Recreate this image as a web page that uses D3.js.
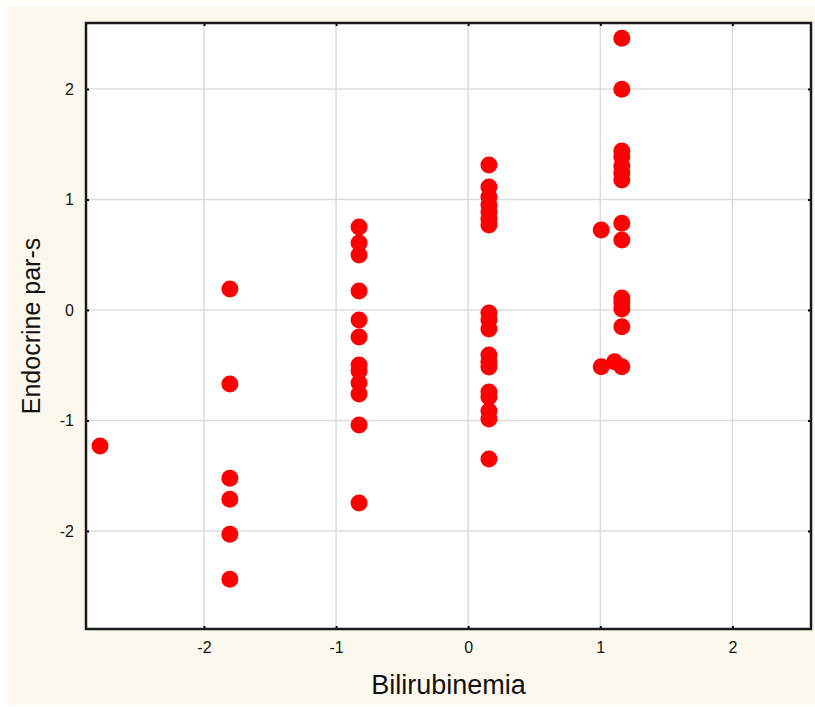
<!DOCTYPE html>
<html>
<head>
<meta charset="utf-8">
<script src="https://cdn.jsdelivr.net/npm/d3@7"></script>
<style>
  html, body { margin: 0; padding: 0; background: #ffffff; }
  svg { display: block; }
  text { font-family: "Liberation Sans", Arial, sans-serif; fill: #111; }
</style>
</head>
<body>
<svg id="chart" width="815" height="707"></svg>
<script>
// Standardized scores per patient: bilirubinemia (x) vs endocrine parameters (y)
const bilirubinemia = [
  -2.787,
  -1.804, -1.804, -1.804, -1.804, -1.804, -1.804,
  -0.826, -0.826, -0.826, -0.826, -0.826, -0.826, -0.826, -0.826, -0.826, -0.826, -0.826, -0.826,
  0.157, 0.157, 0.157, 0.157, 0.157, 0.157, 0.157,
  0.157, 0.157, 0.157, 0.157, 0.157, 0.157, 0.157, 0.157, 0.157, 0.157, 0.157,
  1.163, 1.163, 1.163, 1.163, 1.163, 1.163, 1.163, 1.163, 1.163, 1.007,
  1.163, 1.163, 1.163, 1.163, 1.007, 1.108, 1.163
];
const endocrine = [
  -1.231,
  0.190, -0.670, -1.523, -1.713, -2.030, -2.437,
  0.751, 0.606, 0.498, 0.172, -0.090, -0.244, -0.498, -0.552, -0.661, -0.760, -1.041, -1.747,
  1.312, 1.113, 1.023, 0.950, 0.887, 0.824, 0.769,
  -0.027, -0.090, -0.172, -0.407, -0.471, -0.516, -0.742, -0.787, -0.914, -0.986, -1.348,
  2.459, 1.997, 1.439, 1.385, 1.303, 1.240, 1.176, 0.785, 0.633, 0.724,
  0.109, 0.063, 0.009, -0.151, -0.513, -0.468, -0.513
];
const xTicks = [-2, -1, 0, 1, 2];
const yTicks = [-2, -1, 0, 1, 2];
const xTitle = "Bilirubinemia";
const yTitle = "Endocrine par-s";

const points = bilirubinemia.map((b, i) => ({ x: b, y: endocrine[i] }));
// plain hyphen for negative tick labels
const fmt = d => String(d);

const svg = d3.select("#chart");
const W = 815;
const plot = { left: 86, top: 23, right: 811, bottom: 629 };

// cream panel behind the whole chart
svg.append("rect")
  .attr("x", 7).attr("y", 6)
  .attr("width", W - 7).attr("height", 699)
  .attr("fill", "#fdf8ed");

const x = d3.scaleLinear().domain([-2.893, 2.595]).range([plot.left, plot.right]);
const y = d3.scaleLinear().domain([-2.887, 2.597]).range([plot.bottom, plot.top]);

// plot area
svg.append("rect")
  .attr("x", plot.left).attr("y", plot.top)
  .attr("width", plot.right - plot.left).attr("height", plot.bottom - plot.top)
  .attr("fill", "#ffffff");

// grid lines
const grid = svg.append("g").attr("stroke", "#dcdcdc").attr("stroke-width", 1.5);
grid.selectAll("line.gx").data(xTicks).join("line")
  .attr("x1", d => x(d)).attr("x2", d => x(d))
  .attr("y1", plot.top).attr("y2", plot.bottom);
grid.selectAll("line.gy").data(yTicks).join("line")
  .attr("y1", d => y(d)).attr("y2", d => y(d))
  .attr("x1", plot.left).attr("x2", plot.right);

// inward ticks on all four sides
const tickLen = 3;
svg.append("g").attr("transform", `translate(0,${plot.bottom})`)
  .call(d3.axisBottom(x).tickValues(xTicks).tickSize(-tickLen).tickPadding(13).tickFormat(fmt))
  .call(g => g.select(".domain").remove())
  .call(g => g.selectAll("line").attr("stroke", "#000").attr("stroke-width", 2))
  .call(g => g.selectAll("text").attr("font-size", 16).attr("fill", "#111").attr("dy", "0.71em"));
svg.append("g").attr("transform", `translate(${plot.left},0)`)
  .call(d3.axisLeft(y).tickValues(yTicks).tickSize(-tickLen).tickPadding(12).tickFormat(fmt))
  .call(g => g.select(".domain").remove())
  .call(g => g.selectAll("line").attr("stroke", "#000").attr("stroke-width", 2))
  .call(g => g.selectAll("text").attr("font-size", 16).attr("fill", "#111"));
svg.append("g").attr("transform", `translate(0,${plot.top})`)
  .call(d3.axisTop(x).tickValues(xTicks).tickSize(-tickLen).tickFormat(""))
  .call(g => g.select(".domain").remove())
  .call(g => g.selectAll("line").attr("stroke", "#000").attr("stroke-width", 2));
svg.append("g").attr("transform", `translate(${plot.right},0)`)
  .call(d3.axisRight(y).tickValues(yTicks).tickSize(-tickLen).tickFormat(""))
  .call(g => g.select(".domain").remove())
  .call(g => g.selectAll("line").attr("stroke", "#000").attr("stroke-width", 2));

// points
svg.append("g").selectAll("circle").data(points).join("circle")
  .attr("cx", d => x(d.x)).attr("cy", d => y(d.y))
  .attr("r", 8.5)
  .attr("fill", "#ff0000");

// frame
svg.append("rect")
  .attr("x", plot.left).attr("y", plot.top)
  .attr("width", plot.right - plot.left).attr("height", plot.bottom - plot.top)
  .attr("fill", "none").attr("stroke", "#1a1a1a").attr("stroke-width", 2.5);

// axis titles
svg.append("text")
  .attr("x", (plot.left + plot.right) / 2).attr("y", 694)
  .attr("text-anchor", "middle").attr("font-size", 27)
  .text(xTitle);
svg.append("text")
  .attr("transform", `translate(40,${(plot.top + plot.bottom) / 2}) rotate(-90)`)
  .attr("text-anchor", "middle").attr("font-size", 25)
  .text(yTitle);
</script>
</body>
</html>
